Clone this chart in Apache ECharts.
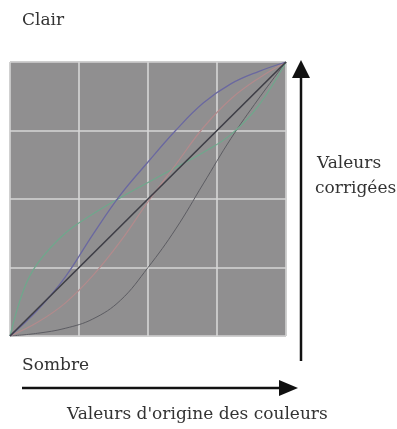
<!DOCTYPE html>
<html><head><meta charset="utf-8">
<script src="https://cdn.jsdelivr.net/npm/echarts@6/dist/echarts.min.js"></script>
<style>html,body{margin:0;padding:0;background:#fff}#c{width:397px;height:429px}</style>
</head><body><div id="c"></div>
<script>
// Data (normalized 0..1 input → corrected output)
const diagX = [0, 1];
const diagY = [0, 1];
const blueX = [0, 0.1, 0.2, 0.3, 0.4, 0.5, 0.6, 0.7, 0.8, 0.9, 1];
const blueY = [0, 0.095, 0.215, 0.37, 0.515, 0.635, 0.75, 0.85, 0.92, 0.965, 1];
const redX = [0, 0.1, 0.2, 0.3, 0.4, 0.5, 0.6, 0.7, 0.8, 0.9, 1];
const redY = [0, 0.05, 0.12, 0.22, 0.345, 0.49, 0.625, 0.76, 0.865, 0.94, 1];
const greenX = [0, 0.05, 0.1, 0.2, 0.3, 0.4, 0.5, 0.6, 0.7, 0.8, 0.9, 1];
const greenY = [0, 0.17, 0.265, 0.375, 0.445, 0.505, 0.56, 0.615, 0.67, 0.735, 0.84, 1];
const grayX = [0, 0.1, 0.2, 0.3, 0.4, 0.5, 0.6, 0.7, 0.8, 0.9, 1];
const grayY = [0, 0.01, 0.028, 0.062, 0.13, 0.25, 0.39, 0.555, 0.72, 0.865, 1];
const tickValues = [0, 0.25, 0.5, 0.75, 1];
const labels = { top: 'Clair', bottom: 'Sombre', xName: "Valeurs d'origine des couleurs", yName1: 'Valeurs', yName2: 'corrigées' };

function pairs(xs, ys) { return xs.map((x, i) => [x, ys[i]]); }
const font = 'DejaVu Serif';
const chart = echarts.init(document.getElementById('c'), null, { renderer: 'canvas' });
const axisCommon = {
  type: 'value', min: tickValues[0], max: tickValues[tickValues.length - 1], interval: 0.25,
  axisLine: { show: false }, axisTick: { show: false }, axisLabel: { show: false },
  splitLine: { show: true, lineStyle: { color: '#d6d6d6', width: 1.6 } }
};
function line(xs, ys, color, w) {
  return { type: 'line', data: pairs(xs, ys), smooth: 0.4, symbol: 'none', silent: true,
    lineStyle: { color: color, width: w }, animation: false };
}
const f = '17px "' + font + '"';
chart.setOption({
  animation: false,
  grid: { left: 10, top: 62, width: 276, height: 274, show: true, backgroundColor: '#908f90', borderColor: '#7c7b7c', borderWidth: 1 },
  xAxis: axisCommon,
  yAxis: axisCommon,
  series: [
    line(grayX, grayY, '#5c5c62', 1),
    line(greenX, greenY, '#6ea88c', 1.2),
    line(redX, redY, '#b38a8c', 1.2),
    line(blueX, blueY, '#6a68a0', 1.3),
    line(diagX, diagY, '#3e3e46', 1.6)
  ],
  graphic: [
    { type: 'text', left: 22, top: 12, style: { text: labels.top, font: f, fill: '#333' } },
    { type: 'text', left: 22, top: 357, style: { text: labels.bottom, font: f, fill: '#333' } },
    { type: 'text', left: 67, top: 406, style: { text: labels.xName, font: f, fill: '#333' } },
    { type: 'text', left: 317, top: 155, style: { text: labels.yName1, font: f, fill: '#333' } },
    { type: 'text', left: 315, top: 180, style: { text: labels.yName2, font: f, fill: '#333' } },
    // horizontal arrow
    { type: 'line', shape: { x1: 22, y1: 388, x2: 282, y2: 388 }, style: { stroke: '#111', lineWidth: 2.5 } },
    { type: 'polygon', shape: { points: [[279, 380], [298, 388], [279, 396]] }, style: { fill: '#111' } },
    // vertical arrow
    { type: 'line', shape: { x1: 301, y1: 361, x2: 301, y2: 76 }, style: { stroke: '#111', lineWidth: 2.5 } },
    { type: 'polygon', shape: { points: [[292, 78], [301, 60], [310, 78]] }, style: { fill: '#111' } }
  ]
});
</script></body></html>
